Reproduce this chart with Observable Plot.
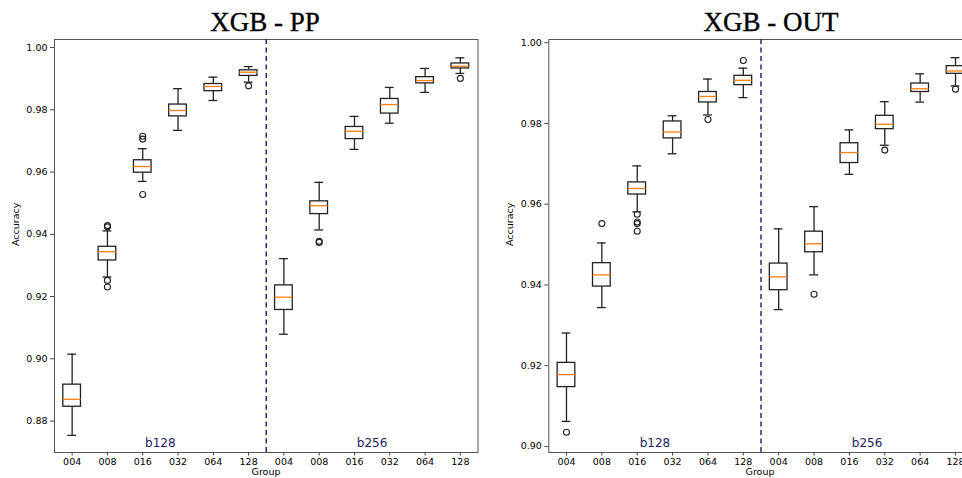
<!DOCTYPE html>
<html><head><meta charset="utf-8">
<script src="https://cdn.jsdelivr.net/npm/d3@7"></script>
<script src="https://cdn.jsdelivr.net/npm/@observablehq/plot@0.6"></script>
<style>
body{margin:0;background:#fff;}
#wrap{position:relative;width:962px;height:478px;overflow:hidden;background:#fff;}
.title{position:absolute;font-family:"Liberation Serif",serif;font-size:27px;line-height:27px;color:#000;white-space:nowrap;transform:translateX(-50%);-webkit-text-stroke:0.35px #000;}
.xlab{position:absolute;font-family:"DejaVu Sans",sans-serif;font-size:9.5px;line-height:10px;color:#000;white-space:nowrap;transform:translateX(-50%);z-index:5;}
.panel{position:absolute;top:0;}
.panel svg{max-width:none !important;}
</style></head><body>
<div id="wrap">
  <div class="title" style="left:265px;top:9px">XGB - PP</div>
  <div class="title" style="left:771px;top:9px">XGB - OUT</div>
  <div id="left" class="panel" style="left:0px;width:480px"></div>
  <div id="right" class="panel" style="left:480px;width:500px"></div>
  <div class="xlab" style="left:266px;top:467px">Group</div>
  <div class="xlab" style="left:760px;top:467px">Group</div>
</div>
<script>
const groups = ["004","008","016","032","064","128"];
const batches = ["b128","b256"];
const titles = ["XGB - PP","XGB - OUT"];
const yTicks = [0.88,0.90,0.92,0.94,0.96,0.98,1.00];

// XGB - PP : box statistics in order b128-004..128, b256-004..128
const ppLo  = [0.8754,0.9263,0.9570,0.9734,0.9830,0.9889, 0.9079,0.9414,0.9673,0.9757,0.9856,0.9917];
const ppQ1  = [0.8846,0.9316,0.9598,0.9779,0.9860,0.9909, 0.9157,0.9465,0.9706,0.9788,0.9885,0.9933];
const ppMed = [0.8870,0.9344,0.9618,0.9798,0.9875,0.9921, 0.9198,0.9492,0.9731,0.9817,0.9894,0.9940];
const ppQ3  = [0.8917,0.9360,0.9638,0.9817,0.9883,0.9927, 0.9236,0.9506,0.9745,0.9835,0.9905,0.9949];
const ppHi  = [0.9015,0.9411,0.9675,0.9868,0.9905,0.9939, 0.9322,0.9567,0.9779,0.9872,0.9933,0.9967];
const ppOut = [[],[0.9424,0.9428,0.9252,0.9231],[0.9715,0.9706,0.9528],[],[],[0.9877],
               [],[0.9374,0.9378],[],[],[],[0.9901]];

// XGB - OUT
const outLo  = [0.9062,0.9344,0.9581,0.9725,0.9821,0.9864, 0.9339,0.9425,0.9674,0.9746,0.9853,0.9893];
const outQ1  = [0.9147,0.9396,0.9624,0.9763,0.9852,0.9895, 0.9387,0.9481,0.9702,0.9786,0.9878,0.9923];
const outMed = [0.9178,0.9425,0.9639,0.9779,0.9867,0.9907, 0.9420,0.9502,0.9728,0.9798,0.9886,0.9930];
const outQ3  = [0.9207,0.9454,0.9654,0.9805,0.9878,0.9918, 0.9453,0.9532,0.9751,0.9819,0.9899,0.9942];
const outHi  = [0.9281,0.9504,0.9695,0.9819,0.9910,0.9937, 0.9539,0.9594,0.9784,0.9854,0.9923,0.9963];
const outOut = [[0.9035],[0.9552],[0.9575,0.9556,0.9552,0.9533],[],[0.9810],[0.9956],
                [],[0.9377],[],[0.9734],[],[0.9885]];

const NAVY = "#1c1c66";
const labels = batches.flatMap(() => groups);

function panel({lo,q1,med,q3,hi,outs,yDomain,width,marginLeft,marginRight}) {
  const rows = labels.map((g,k) => ({i:k+1, g, lo:lo[k], q1:q1[k], med:med[k], q3:q3[k], hi:hi[k]}));
  const outRows = outs.flatMap((vs,k) => vs.map(v => ({i:k+1, v})));
  const pos = rows.map(d => d.i);
  const ticks = yTicks.filter(t => t >= yDomain[0] && t <= yDomain[1]);
  return Plot.plot({
    width, height:490,
    marginLeft, marginRight, marginTop:39, marginBottom:38,
    style:{fontFamily:"DejaVu Sans, sans-serif", fontSize:"9.5px", color:"#000", background:"transparent"},
    x:{type:"linear", domain:[0.5, labels.length+0.5]},
    y:{domain:yDomain},
    marks:[
      Plot.frame({stroke:"#555", strokeWidth:1}),
      Plot.axisY({ticks, tickFormat:d3.format(".2f"), tickSize:4, tickPadding:3, label:null, stroke:"#444"}),
      Plot.axisX({ticks:pos, tickFormat:d => labels[d-1], tickSize:3.5, tickPadding:2, label:null, stroke:"#444"}),
      Plot.ruleX(rows, {x:"i", y1:"q3", y2:"hi", stroke:"#222", strokeWidth:1.3}),
      Plot.ruleX(rows, {x:"i", y1:"lo", y2:"q1", stroke:"#222", strokeWidth:1.3}),
      Plot.ruleY(rows, {y:"hi", x1:d => d.i-0.125, x2:d => d.i+0.125, stroke:"#222", strokeWidth:1.3}),
      Plot.ruleY(rows, {y:"lo", x1:d => d.i-0.125, x2:d => d.i+0.125, stroke:"#222", strokeWidth:1.3}),
      Plot.rect(rows, {x1:d => d.i-0.25, x2:d => d.i+0.25, y1:"q1", y2:"q3", fill:"white", stroke:"#222", strokeWidth:1.3}),
      Plot.ruleY(rows, {y:"med", x1:d => d.i-0.25, x2:d => d.i+0.25, stroke:"#ff7f0e", strokeWidth:1.3}),
      Plot.dot(outRows, {x:"i", y:"v", r:3, stroke:"#222", fill:"none", strokeWidth:1.1}),
      Plot.ruleX([groups.length+0.5], {x:d => d, stroke:NAVY, strokeWidth:1.4, strokeDasharray:"5,3.5"}),
      Plot.text(batches, {x:(d,k) => k*groups.length + (groups.length+1)/2, text:d => d, frameAnchor:"bottom", lineAnchor:"bottom", dy:-6, fill:NAVY, fontSize:12}),
      Plot.text(["Accuracy"], {text:d => d, frameAnchor:"left", dx:-39, rotate:-90, fontSize:9.5, fill:"#000"})
    ]
  });
}

document.getElementById("left").append(panel({
  lo:ppLo, q1:ppQ1, med:ppMed, q3:ppQ3, hi:ppHi, outs:ppOut,
  yDomain:[0.8699, 1.0026], width:480, marginLeft:54, marginRight:2.5
}));
document.getElementById("right").append(panel({
  lo:outLo, q1:outQ1, med:outMed, q3:outQ3, hi:outHi, outs:outOut,
  yDomain:[0.8985, 1.0008], width:500, marginLeft:68.3, marginRight:7.3
}));
</script>
</body></html>
